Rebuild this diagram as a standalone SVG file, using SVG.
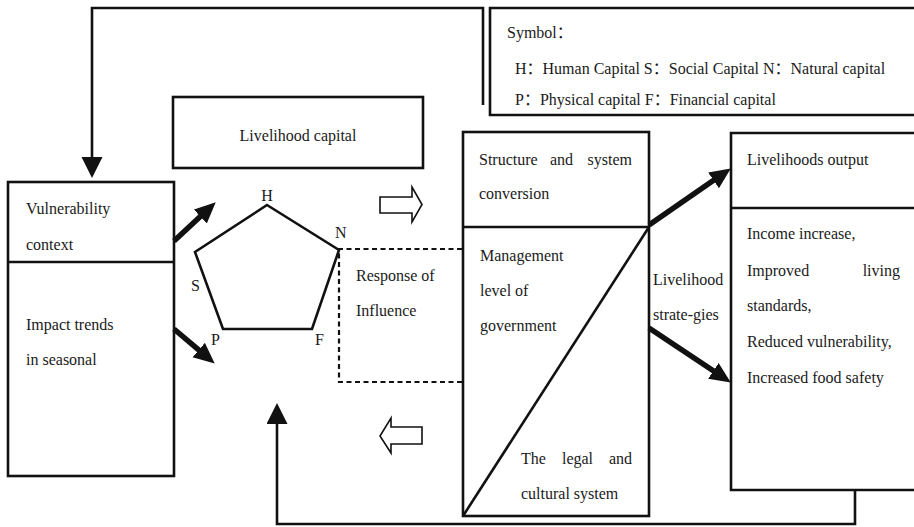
<svg xmlns="http://www.w3.org/2000/svg" width="914" height="527" viewBox="0 0 914 527">
<style>
.b{fill:none;stroke:#111;stroke-width:2.6}
.t{font-family:"Liberation Serif","Times New Roman",Times,"DejaVu Serif","Noto Sans CJK SC",serif;font-size:16px;fill:#1a1a1a}
.e{text-anchor:end}
.m{text-anchor:middle}
.thick{fill:none;stroke:#111;stroke-width:5.5}
.thin{fill:none;stroke:#111;stroke-width:2.6}
.hollow{fill:#fff;stroke:#111;stroke-width:1.6}
.dash{fill:none;stroke:#111;stroke-width:2.2;stroke-dasharray:5 3.5}
</style>
<defs>
<marker id="big" markerUnits="userSpaceOnUse" markerWidth="22" markerHeight="20" refX="8" refY="9.5" orient="auto" viewBox="0 0 22 20">
<path d="M0,0 L21,9.5 L0,19 z" fill="#111"/>
</marker>
<marker id="small" markerUnits="userSpaceOnUse" markerWidth="22" markerHeight="22" refX="16" refY="10.5" orient="auto" viewBox="0 0 22 22">
<path d="M0,0 L21,10.5 L0,21 z" fill="#111"/>
</marker>
</defs>

<g id="symbol-box">
<path class="b" d="M914,8 L490,8 L490,115 L914,115"/>
<text class="t" x="507" y="38">Symbol：</text>
<text class="t" x="515" y="74">H：Human Capital S：Social Capital N：Natural capital</text>
<text class="t" x="515" y="105">P：Physical capital F：Financial capital</text>
</g>

<g id="livelihood-capital">
<rect class="b" x="173" y="97" width="250" height="71"/>
<text class="t m" x="298" y="141">Livelihood capital</text>
</g>

<g id="vulnerability">
<rect class="b" x="8" y="182" width="166" height="294"/>
<line class="b" x1="8" y1="262" x2="174" y2="262"/>
<text class="t" x="26" y="214">Vulnerability</text>
<text class="t" x="26" y="250">context</text>
<text class="t" x="26" y="330">Impact trends</text>
<text class="t" x="26" y="365">in seasonal</text>
</g>

<g id="pentagon">
<polygon class="b" points="267,205 339,250 312,329 223,329 195,252"/>
<text class="t m" x="267" y="201">H</text>
<text class="t" x="335" y="238">N</text>
<text class="t" x="191" y="291">S</text>
<text class="t" x="211" y="345">P</text>
<text class="t" x="315" y="345">F</text>
</g>

<g id="response">
<path class="dash" d="M462,249 L339,249 L339,382 L462,382"/>
<text class="t" x="356" y="281">Response of</text>
<text class="t" x="356" y="316">Influence</text>
</g>

<g id="structure">
<rect class="b" x="463" y="132" width="186" height="384"/>
<line class="b" x1="463" y1="227" x2="649" y2="227"/>
<line class="b" x1="463" y1="516" x2="649" y2="227"/>
<text class="t" x="479" y="165">Structure</text>
<text class="t m" x="561.5" y="165">and</text>
<text class="t e" x="632" y="165">system</text>
<text class="t" x="479" y="199">conversion</text>
<text class="t" x="480" y="261">Management</text>
<text class="t" x="480" y="296">level of</text>
<text class="t" x="480" y="331">government</text>
<text class="t" x="521" y="464">The</text>
<text class="t m" x="577.5" y="464">legal</text>
<text class="t e" x="632" y="464">and</text>
<text class="t" x="521" y="499">cultural system</text>
</g>

<g id="strategies">
<text class="t" x="653" y="285">Livelihood</text>
<text class="t" x="653" y="320">strate-gies</text>
</g>

<g id="output">
<path class="b" d="M914,133 L731,133 L731,490 L914,490"/>
<line class="b" x1="731" y1="208" x2="914" y2="208"/>
<text class="t" x="747" y="165">Livelihoods output</text>
<text class="t" x="747" y="239">Income increase,</text>
<text class="t" x="747" y="276">Improved</text>
<text class="t e" x="900" y="276">living</text>
<text class="t" x="747" y="311">standards,</text>
<text class="t" x="747" y="347">Reduced vulnerability,</text>
<text class="t" x="747" y="383">Increased food safety</text>
</g>

<g id="connectors">
<path class="thin" d="M483,105 L483,8 L92,8 L92,173" marker-end="url(#small)"/>
<path class="thin" d="M855,490 L855,524 L277,524 L277,408" marker-end="url(#small)"/>
<line class="thick" x1="174" y1="241" x2="206.2" y2="211.1" marker-end="url(#big)"/>
<line class="thick" x1="174" y1="329" x2="204.8" y2="355.2" marker-end="url(#big)"/>
<line class="thick" x1="649" y1="225" x2="720.1" y2="175.8" marker-end="url(#big)"/>
<line class="thick" x1="649" y1="328" x2="720" y2="375.3" marker-end="url(#big)"/>
<polygon class="hollow" points="380,197 412,197 412,187 422,204.5 412,222 412,213 380,213"/>
<polygon class="hollow" points="422,427 391,427 391,418 380,436 391,453 391,444 422,444"/>
</g>
</svg>
